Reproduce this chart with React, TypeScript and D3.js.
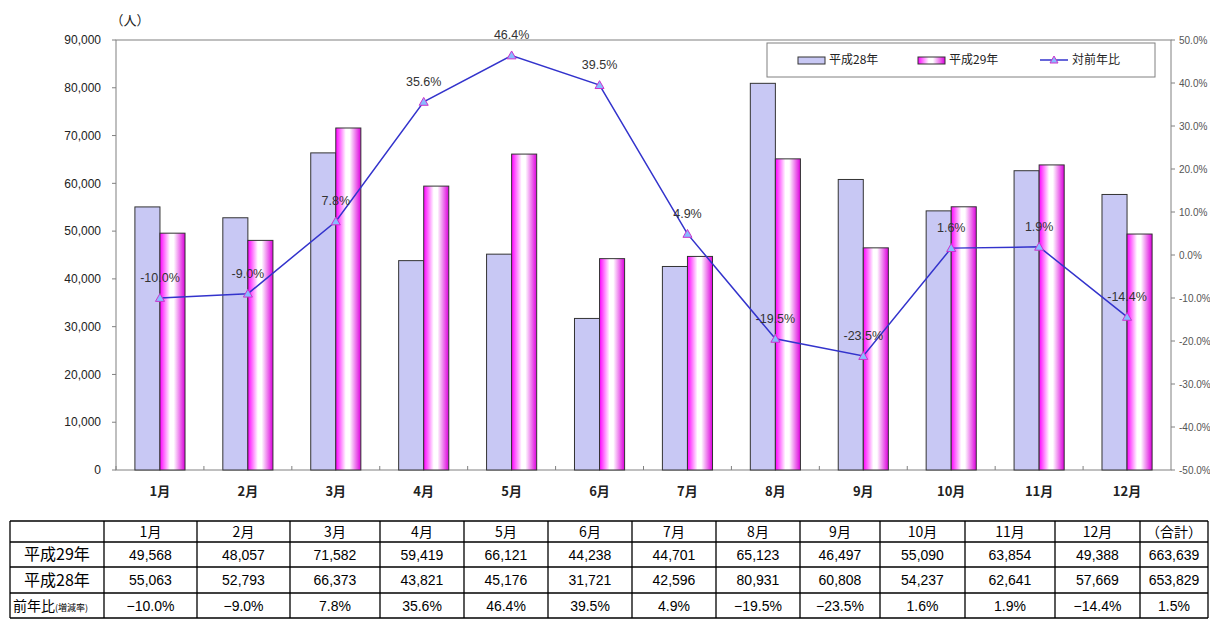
import * as d3 from 'd3';

const months = ['1月', '2月', '3月', '4月', '5月', '6月', '7月', '8月', '9月', '10月', '11月', '12月'];
const h29 = [49568, 48057, 71582, 59419, 66121, 44238, 44701, 65123, 46497, 55090, 63854, 49388];
const h28 = [55063, 52793, 66373, 43821, 45176, 31721, 42596, 80931, 60808, 54237, 62641, 57669];
const ratio = [-10.0, -9.0, 7.8, 35.6, 46.4, 39.5, 4.9, -19.5, -23.5, 1.6, 1.9, -14.4];
const leftTicks = [0, 10000, 20000, 30000, 40000, 50000, 60000, 70000, 80000, 90000];
const rightTicks = [-50, -40, -30, -20, -10, 0, 10, 20, 30, 40, 50];
const totals = { h29: '663,639', h28: '653,829', ratio: '1.5%' };

// table column edges
const colEdges = [10, 104, 197, 290, 380, 464, 548, 632, 716, 800, 880, 965, 1055, 1140, 1208];
const rowEdges = [521, 542, 567, 593, 618];

const JP = '"Noto Sans CJK JP", sans-serif';
const NUM = '"Liberation Sans", Arial, sans-serif';

const plot = { left: 116, right: 1171, top: 40, bottom: 470 };

const App = () => {
  const x = d3.scaleBand<string>().domain(months).range([plot.left, plot.right]);
  const yL = d3.scaleLinear().domain([0, 90000]).range([plot.bottom, plot.top]);
  const yR = d3.scaleLinear().domain([-50, 50]).range([plot.bottom, plot.top]);
  const bw = x.bandwidth() * 0.285;
  const cx = (m: string) => (x(m) ?? 0) + x.bandwidth() / 2;

  const line = d3.line<number>()
    .x((_, i) => cx(months[i]))
    .y(d => yR(d));

  const fmt = d3.format(',');
  const pct = (v: number) => (v < 0 ? '-' : '') + Math.abs(v).toFixed(1) + '%';
  const pctT = (v: number) => (v < 0 ? '−' : '') + Math.abs(v).toFixed(1) + '%';

  const tri = (px: number, py: number, s = 4.5) =>
    `M${px},${py - s} L${px + s},${py + s * 0.75} L${px - s},${py + s * 0.75} Z`;

  const rows = [
    { head: '平成29年', vals: h29.map(fmt), total: totals.h29 },
    { head: '平成28年', vals: h28.map(fmt), total: totals.h28 },
    { head: '', vals: ratio.map(pctT), total: totals.ratio },
  ];

  return (
    <div style={{ position: 'absolute', left: 0, top: 0 }}>
      <svg width={1210} height={619} style={{ display: 'block', background: '#fff' }}>
        <defs>
          <linearGradient id="g29" x1="0" x2="1" y1="0" y2="0">
            <stop offset="0" stopColor="#ff00ff" />
            <stop offset="0.4" stopColor="#ffffff" />
            <stop offset="0.55" stopColor="#ffffff" />
            <stop offset="1" stopColor="#dd00dd" />
          </linearGradient>
        </defs>

        {/* plot frame */}
        <rect x={plot.left} y={plot.top} width={plot.right - plot.left} height={plot.bottom - plot.top}
          fill="none" stroke="#808080" strokeWidth={1} />

        {/* left axis */}
        {leftTicks.map(t => (
          <g key={t}>
            <line x1={plot.left - 4} x2={plot.left} y1={yL(t)} y2={yL(t)} stroke="#808080" />
            <text x={101} y={yL(t)} dy="0.35em" textAnchor="end" fontFamily={NUM} fontSize={12} fill="#222">
              {fmt(t)}
            </text>
          </g>
        ))}
        <text x={130} y={25} textAnchor="middle" fontFamily={JP} fontSize={13} fill="#222">（人）</text>

        {/* right axis */}
        {rightTicks.map(t => (
          <g key={t}>
            <line x1={plot.right} x2={plot.right + 4} y1={yR(t)} y2={yR(t)} stroke="#808080" />
            <text x={1179} y={yR(t)} dy="0.35em" fontFamily={NUM} fontSize={10} fill="#555">
              {t.toFixed(1) + '%'}
            </text>
          </g>
        ))}

        {/* x axis ticks + labels */}
        {months.map(m => (
          <g key={m}>
            <line x1={x(m)} x2={x(m)} y1={plot.bottom} y2={plot.bottom - 4} stroke="#808080" />
            <text x={cx(m)} y={496} textAnchor="middle" fontFamily={JP} fontSize={13} fontWeight="bold" fill="#222">{m}</text>
          </g>
        ))}

        {/* bars */}
        {months.map((m, i) => (
          <g key={m}>
            <rect x={cx(m) - bw} y={yL(h28[i])} width={bw} height={yL(0) - yL(h28[i])}
              fill="#c8c8f4" stroke="#333" strokeWidth={1} />
            <rect x={cx(m)} y={yL(h29[i])} width={bw} height={yL(0) - yL(h29[i])}
              fill="url(#g29)" stroke="#333" strokeWidth={1} />
          </g>
        ))}

        {/* ratio line */}
        <path d={line(ratio) ?? ''} fill="none" stroke="#3333cc" strokeWidth={1.5} />
        {ratio.map((v, i) => (
          <g key={i}>
            <path d={tri(cx(months[i]), yR(v))} fill="#88bbff" stroke="#cc33cc" strokeWidth={1} />
            <text x={cx(months[i])} y={yR(v) - 16} textAnchor="middle" fontFamily={NUM} fontSize={12.5} fill="#333">
              {pct(v)}
            </text>
          </g>
        ))}

        {/* legend */}
        <rect x={767} y={43} width={388} height={34} fill="#fff" stroke="#808080" />
        <rect x={798} y={57} width={27} height={7} fill="#c8c8f4" stroke="#333" />
        <text x={829} y={60} dy="0.35em" fontFamily={JP} fontSize={12} fill="#222">平成28年</text>
        <rect x={918} y={57} width={27} height={7} fill="url(#g29)" stroke="#333" />
        <text x={949} y={60} dy="0.35em" fontFamily={JP} fontSize={12} fill="#222">平成29年</text>
        <line x1={1040} x2={1068} y1={60} y2={60} stroke="#3333cc" strokeWidth={1.5} />
        <path d={tri(1054, 60, 4)} fill="#88bbff" stroke="#cc33cc" />
        <text x={1072} y={60} dy="0.35em" fontFamily={JP} fontSize={12} fill="#222">対前年比</text>

        {/* table */}
        <g>
          {rowEdges.map(y => (
            <line key={y} x1={colEdges[0]} x2={colEdges[colEdges.length - 1]} y1={y} y2={y} stroke="#000" strokeWidth={1.3} />
          ))}
          {colEdges.map(xe => (
            <line key={xe} x1={xe} x2={xe} y1={rowEdges[0]} y2={rowEdges[rowEdges.length - 1]} stroke="#000" strokeWidth={1.3} />
          ))}
          {[...months, '（合計）'].map((m, j) => (
            <text key={m} x={(colEdges[j + 1] + colEdges[j + 2]) / 2} y={(rowEdges[0] + rowEdges[1]) / 2} dy="0.36em"
              textAnchor="middle" fontFamily={JP} fontSize={14} fill="#000">{m}</text>
          ))}
          {rows.map((r, ri) => {
            const yc = (rowEdges[ri + 1] + rowEdges[ri + 2]) / 2;
            return (
              <g key={ri}>
                {ri < 2 ? (
                  <text x={(colEdges[0] + colEdges[1]) / 2} y={yc} dy="0.36em" textAnchor="middle"
                    fontFamily={JP} fontSize={16} fill="#000">{r.head}</text>
                ) : (
                  <text x={13} y={yc} dy="0.36em" fontFamily={JP} fontSize={14} fill="#000">
                    前年比<tspan fontSize={9}>(増減率)</tspan>
                  </text>
                )}
                {[...r.vals, r.total].map((v, j) => (
                  <text key={j} x={(colEdges[j + 1] + colEdges[j + 2]) / 2} y={yc} dy="0.36em" textAnchor="middle"
                    fontFamily={NUM} fontSize={14} fill="#000">{v}</text>
                ))}
              </g>
            );
          })}
        </g>
      </svg>
    </div>
  );
};

export default App;
